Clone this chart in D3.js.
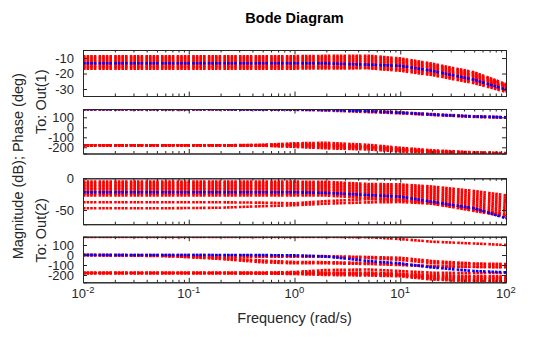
<!DOCTYPE html>
<html>
<head>
<meta charset="utf-8">
<script src="https://cdn.jsdelivr.net/npm/d3@7"></script>
<style>
  html, body { margin: 0; padding: 0; background: #fff; }
  svg { display: block; font-family: "Liberation Sans", Arial, sans-serif; }
</style>
</head>
<body>
<div id="container"></div>
<script>
const w = 560;
const h = 337;

// frequency grid (rad/s) used for every response below
const freqs = [0.01, 0.05, 0.2, 0.5, 1, 2, 5, 10, 20, 50, 100];

// nominal model
const nomMag1 = [-13.4, -13.4, -13.4, -13.4, -13.4, -13.4, -14.3, -15.0, -18.2, -24.0, -30.4];
const nomPh1 = [180, 180, 180, 179, 178, 174, 160, 146, 128, 108, 100];
const nomMag2 = [-22, -22, -22, -22, -22, -23, -26.4, -29, -37, -47.4, -63];
const nomPh2 = [0, 0, 0, -1, -4, -15, -60, -83, -125, -160, -173];

// uncertain samples, Out(1) magnitude
const sampMag1 = [
  [-8.9, -8.9, -8.9, -8.9, -8.8, -8.6, -8.5, -10.2, -13.6, -19.2, -26.8],
  [-9.9, -9.9, -9.9, -9.9, -9.8, -9.6, -9.6, -11.1, -14.5, -20.0, -27.4],
  [-10.9, -10.9, -10.9, -10.9, -10.8, -10.6, -10.7, -12.0, -15.4, -20.9, -28.0],
  [-11.9, -11.9, -11.9, -11.9, -11.8, -11.7, -11.8, -13.0, -16.3, -21.7, -28.5],
  [-12.9, -12.9, -12.9, -12.9, -12.9, -12.8, -13.0, -14.0, -17.2, -22.6, -29.1],
  [-13.9, -13.9, -13.9, -13.9, -13.9, -13.8, -14.1, -15.0, -18.2, -23.5, -29.7],
  [-14.9, -14.9, -14.9, -14.9, -14.9, -14.9, -15.2, -16.0, -19.1, -24.3, -30.3],
  [-15.9, -15.9, -15.9, -15.9, -15.9, -15.9, -16.3, -17.1, -20.0, -25.2, -31.0],
  [-16.8, -16.8, -16.8, -16.8, -16.8, -16.7, -16.6, -18.2, -21.0, -26.2, -31.8]
];

// uncertain samples, Out(1) phase
const sampPh1 = [
  [180, 180, 180, 180, 180, 178, 166, 150, 132, 110, 101],
  [180, 180, 180, 178, 175, 168, 152, 140, 124, 104, 97],
  [180, 180, 180, 181, 183, 180, 163, 143, 126, 106, 99],
  [-180, -180, -180, -176, -160, -155, -175, -205, -230, -250, -258],
  [-180, -180, -180, -178, -170, -170, -190, -215, -238, -255, -260],
  [-180, -180, -180, -180, -180, -185, -200, -225, -245, -258, -262],
  [-180, -180, -180, -182, -190, -200, -210, -235, -250, -260, -262],
  [-180, -180, -180, -184, -196, -210, -222, -242, -255, -262, -262],
  [-180, -180, -180, -179, -175, -178, -195, -220, -240, -256, -261]
];

// uncertain samples, Out(2) magnitude
const sampMag2 = [
  [-5.3, -5.3, -5.3, -5.3, -5.3, -5.5, -9.0, -9.6, -13.0, -20.0, -26.8],
  [-7.7, -7.7, -7.7, -7.7, -7.7, -8.0, -11.5, -12.3, -16.0, -23.5, -30.5],
  [-10.1, -10.1, -10.1, -10.1, -10.1, -10.4, -14.0, -15.0, -19.0, -27.0, -34.2],
  [-12.5, -12.5, -12.5, -12.5, -12.5, -12.8, -16.5, -17.7, -22.0, -30.5, -38.0],
  [-14.9, -14.9, -14.9, -14.9, -14.9, -15.2, -19.0, -20.4, -25.0, -34.0, -41.7],
  [-17.3, -17.3, -17.3, -17.3, -17.3, -17.6, -21.5, -23.1, -28.0, -37.5, -45.5],
  [-19.7, -19.7, -19.7, -19.7, -19.7, -20.0, -24.0, -25.8, -31.0, -41.0, -49.2],
  [-22.1, -22.1, -22.1, -22.1, -22.1, -22.4, -26.5, -28.5, -34.0, -44.5, -53.0],
  [-24.5, -24.5, -24.5, -24.5, -24.5, -24.8, -29.0, -31.2, -37.0, -48.0, -56.7],
  [-27.0, -27.0, -27.0, -27.0, -27.0, -27.2, -31.5, -34.0, -40.0, -51.5, -60.5],
  [-37.9, -37.9, -37.9, -38.5, -39.5, -36.0, -33.0, -35.0, -38.0, -48.0, -58.0],
  [-47.4, -47.4, -46.5, -44.0, -42.5, -40.0, -38.0, -37.5, -40.0, -50.0, -60.0]
];

// uncertain samples, Out(2) phase
const sampPh2 = [
  [180, 180, 180, 180, 180, 180, 178, 160, 133, 115, 100],
  [0, 0, -2, -5, -8, -12, -20, -28, -60, -85, -90],
  [0, -5, -17, -17, -17, -17, -30, -50, -80, -95, -98],
  [0, -10, -30, -55, -70, -72, -80, -95, -110, -118, -123],
  [0, -3, -40, -73, -83, -83, -90, -100, -115, -120, -120],
  [-180, -180, -180, -178, -170, -150, -145, -160, -177, -180, -180],
  [-180, -180, -180, -180, -178, -175, -175, -185, -200, -210, -215],
  [-180, -180, -180, -182, -185, -190, -195, -205, -225, -240, -245],
  [-180, -180, -180, -184, -190, -200, -205, -213, -245, -265, -270],
  [-180, -180, -180, -180, -180, -182, -185, -195, -212, -225, -230],
  [-180, -180, -180, -181, -183, -185, -190, -200, -235, -255, -260]
];

const xTicks = [0.01, 0.1, 1, 10, 100];
const xTickExp = ["-2", "-1", "0", "1", "2"];
const yTicks1 = [-10, -20, -30];
const yTicks2 = [100, 0, -100, -200];
const yTicks3 = [0, -50];
const yTicks4 = [100, 0, -100, -200];

const left = 83, right = 506;
const axisColor = "#262626";
const dash = "2.6,1,2.6,1,2.6,1,2.6,2.2";

const panels = [
  { top: 50, bottom: 96, domain: [-34.5, -4.8], ticks: yTicks1, nom: nomMag1, samples: sampMag1 },
  { top: 109, bottom: 153.5, domain: [-262, 183], ticks: yTicks2, nom: nomPh1, samples: sampPh1 },
  { top: 178.3, bottom: 224.2, domain: [-72.5, 0], ticks: yTicks3, nom: nomMag2, samples: sampMag2 },
  { top: 236.7, bottom: 282.3, domain: [-273, 183], ticks: yTicks4, nom: nomPh2, samples: sampPh2 }
];

const svg = d3.select("#container")
  .append("svg")
  .attr("width", w)
  .attr("height", h);

const xScale = d3.scaleLog().domain([0.01, 100]).range([left, right]);

// minor log ticks: 2..9 in every decade
const minorTicks = [];
for (let e = -2; e < 2; e++) {
  for (let k = 2; k < 10; k++) minorTicks.push(k * Math.pow(10, e));
}

panels.forEach((p, i) => {
  const yScale = d3.scaleLinear().domain(p.domain).range([p.bottom, p.top]);
  const g = svg.append("g");

  g.append("clipPath")
    .attr("id", `clip-${i}`)
    .append("rect")
    .attr("x", left)
    .attr("y", p.top)
    .attr("width", right - left)
    .attr("height", p.bottom - p.top);

  const line = d3.line()
    .x((d, j) => xScale(freqs[j]))
    .y(d => yScale(d));

  const plot = g.append("g").attr("clip-path", `url(#clip-${i})`);

  plot.selectAll("path.sample")
    .data(p.samples)
    .enter()
    .append("path")
    .attr("class", "sample")
    .attr("d", line)
    .attr("fill", "none")
    .attr("stroke", "#ff0000")
    .attr("stroke-width", 2.6)
    .attr("stroke-dasharray", dash);

  plot.append("path")
    .attr("d", line(p.nom))
    .attr("fill", "none")
    .attr("stroke", "#0000ff")
    .attr("stroke-width", 2.6)
    .attr("stroke-dasharray", dash);

  // y axes, ticks inward on both sides
  const yLeft = d3.axisLeft(yScale).tickValues(p.ticks).tickSize(-4).tickPadding(9)
    .tickFormat(d => String(d));
  const yRight = d3.axisRight(yScale).tickValues(p.ticks).tickSize(-4).tickFormat("");
  g.append("g").attr("transform", `translate(${left},0)`).call(yLeft);
  g.append("g").attr("transform", `translate(${right},0)`).call(yRight);

  // x axes, top and bottom, with minor ticks
  const xBottom = d3.axisBottom(xScale).tickValues(xTicks).tickSize(-4.5).tickFormat("");
  const xTop = d3.axisTop(xScale).tickValues(xTicks).tickSize(-4.5).tickFormat("");
  const xBottomMinor = d3.axisBottom(xScale).tickValues(minorTicks).tickSize(-2.5).tickFormat("");
  const xTopMinor = d3.axisTop(xScale).tickValues(minorTicks).tickSize(-2.5).tickFormat("");
  g.append("g").attr("transform", `translate(0,${p.bottom})`).call(xBottom);
  g.append("g").attr("transform", `translate(0,${p.top})`).call(xTop);
  g.append("g").attr("transform", `translate(0,${p.bottom})`).call(xBottomMinor);
  g.append("g").attr("transform", `translate(0,${p.top})`).call(xTopMinor);

  g.selectAll(".domain").attr("stroke", axisColor).attr("stroke-width", 1);
  g.selectAll(".tick line").attr("stroke", axisColor);
  g.selectAll(".tick text")
    .attr("fill", axisColor)
    .style("font-size", "13px")
    .style("font-family", "'Liberation Sans', Arial, sans-serif");
});

// decade labels under the last panel
const xl = svg.append("g");
xTicks.forEach((t, i) => {
  const txt = xl.append("text")
    .attr("x", xScale(t))
    .attr("y", 298)
    .attr("text-anchor", "middle")
    .attr("fill", axisColor)
    .style("font-size", "13px");
  txt.append("tspan").text("10");
  txt.append("tspan").attr("dy", -5).style("font-size", "9.5px").text(xTickExp[i]);
});

svg.append("text")
  .attr("x", (left + right) / 2)
  .attr("y", 23)
  .attr("text-anchor", "middle")
  .attr("fill", "#000")
  .style("font-size", "14.5px")
  .style("font-weight", "bold")
  .text("Bode Diagram");

svg.append("text")
  .attr("x", (left + right) / 2)
  .attr("y", 323)
  .attr("text-anchor", "middle")
  .attr("fill", axisColor)
  .style("font-size", "14.5px")
  .text("Frequency (rad/s)");

svg.append("text")
  .attr("transform", `translate(23,${(50 + 282.3) / 2}) rotate(-90)`)
  .attr("text-anchor", "middle")
  .attr("fill", axisColor)
  .style("font-size", "14.5px")
  .text("Magnitude (dB); Phase (deg)");

svg.append("text")
  .attr("transform", `translate(46,${(50 + 153.5) / 2}) rotate(-90)`)
  .attr("text-anchor", "middle")
  .attr("fill", axisColor)
  .style("font-size", "14.5px")
  .text("To: Out(1)");

svg.append("text")
  .attr("transform", `translate(46,${(178.3 + 282.3) / 2}) rotate(-90)`)
  .attr("text-anchor", "middle")
  .attr("fill", axisColor)
  .style("font-size", "14.5px")
  .text("To: Out(2)");
</script>
</body>
</html>
